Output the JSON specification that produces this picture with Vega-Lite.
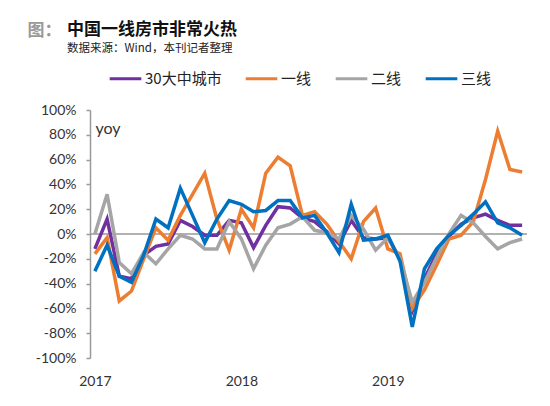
{
  "$schema": "https://vega.github.io/schema/vega-lite/v6.json",
  "width": 437,
  "height": 248,
  "autosize": "none",
  "padding": {"left": 90, "top": 110, "right": 23, "bottom": 48},
  "background": "white",
  "config": {
    "view": {"stroke": null},
    "axisY": {
      "labelOverlap": false,
      "grid": false,
      "labelFont": "Lato",
      "labelFontSize": 14,
      "labelColor": "#333333",
      "labelPadding": 10,
      "domainColor": "#999999",
      "domainWidth": 1.5,
      "tickColor": "#999999",
      "tickSize": 4,
      "tickWidth": 1.5,
      "titleAngle": 0,
      "titleX": 5,
      "titleY": 18,
      "titleAlign": "left",
      "titleBaseline": "middle",
      "titleFont": "Lato",
      "titleFontSize": 16,
      "titleFontWeight": "normal",
      "titleColor": "#333333"
    }
  },
  "title": {
    "text": "中国一线房市非常火热",
    "subtitle": "数据来源：Wind，本刊记者整理",
    "anchor": "start",
    "frame": "group",
    "dx": -23,
    "offset": -34,
    "font": "Noto Sans CJK SC",
    "fontSize": 17,
    "fontWeight": "bold",
    "color": "#111111",
    "subtitleFont": "Noto Sans CJK SC",
    "subtitleFontSize": 11.5,
    "subtitleColor": "#222222",
    "subtitlePadding": 4
  },
  "data": {
    "values": [
      {"m": "2017-01", "30大中城市": -12, "一线": -16, "二线": 0, "三线": -30},
      {"m": "2017-02", "30大中城市": 12, "一线": -3, "二线": 32, "三线": -9},
      {"m": "2017-03", "30大中城市": -34, "一线": -54, "二线": -23, "三线": -34},
      {"m": "2017-04", "30大中城市": -36, "一线": -46, "二线": -32, "三线": -39},
      {"m": "2017-05", "30大中城市": -17, "一线": -20, "二线": -15, "三线": -17},
      {"m": "2017-06", "30大中城市": -10, "一线": 5, "二线": -24, "三线": 12},
      {"m": "2017-07", "30大中城市": -8, "一线": -5, "二线": -12, "三线": 5},
      {"m": "2017-08", "30大中城市": 11, "一线": 15, "二线": -1, "三线": 37},
      {"m": "2017-09", "30大中城市": 6, "一线": 32, "二线": -4, "三线": 15},
      {"m": "2017-10", "30大中城市": -1, "一线": 49, "二线": -12, "三线": -7},
      {"m": "2017-11", "30大中城市": -1, "一线": 12, "二线": -12, "三线": 12},
      {"m": "2017-12", "30大中城市": 11, "一线": -13, "二线": 10, "三线": 27},
      {"m": "2018-01", "30大中城市": 9, "一线": 20, "二线": -4, "三线": 24},
      {"m": "2018-02", "30大中城市": -11, "一线": 5, "二线": -28, "三线": 18},
      {"m": "2018-03", "30大中城市": 7, "一线": 49, "二线": -9, "三线": 19},
      {"m": "2018-04", "30大中城市": 22, "一线": 62, "二线": 5, "三线": 27},
      {"m": "2018-05", "30大中城市": 21, "一线": 55, "二线": 8, "三线": 27},
      {"m": "2018-06", "30大中城市": 13, "一线": 15, "二线": 14, "三线": 13},
      {"m": "2018-07", "30大中城市": 10, "一线": 18, "二线": 3, "三线": 15},
      {"m": "2018-08", "30大中城市": 2, "一线": 8, "二线": 1, "三线": 1},
      {"m": "2018-09", "30大中城市": -8, "一线": -6, "二线": -4, "三线": -15},
      {"m": "2018-10", "30大中城市": 11, "一线": -20, "二线": 15, "三线": 24},
      {"m": "2018-11", "30大中城市": -3, "一线": 10, "二线": 4, "三线": -5},
      {"m": "2018-12", "30大中城市": -4, "一线": 21, "二线": -13, "三线": -4},
      {"m": "2019-01", "30大中城市": -3, "一线": -12, "二线": -3, "三线": -1},
      {"m": "2019-02", "30大中城市": -20, "一线": -16, "二线": -20, "三线": -22},
      {"m": "2019-03", "30大中城市": -62, "一线": -60, "二线": -55, "三线": -75},
      {"m": "2019-04", "30大中城市": -36, "一线": -45, "二线": -39, "三线": -28},
      {"m": "2019-05", "30大中城市": -16, "一线": -25, "二线": -19, "三线": -12},
      {"m": "2019-06", "30大中城市": -2, "一线": -4, "二线": 0, "三线": -1},
      {"m": "2019-07", "30大中城市": 8, "一线": -1, "二线": 15, "三线": 7},
      {"m": "2019-08", "30大中城市": 13, "一线": 10, "二线": 9, "三线": 16},
      {"m": "2019-09", "30大中城市": 16, "一线": 44, "二线": -2, "三线": 26},
      {"m": "2019-10", "30大中城市": 11, "一线": 83, "二线": -12, "三线": 9},
      {"m": "2019-11", "30大中城市": 7, "一线": 52, "二线": -7, "三线": 5},
      {"m": "2019-12", "30大中城市": 7, "一线": 50, "二线": -4, "三线": -1}
    ]
  },
  "transform": [
    {"fold": ["30大中城市", "一线", "二线", "三线"], "as": ["s", "v"]}
  ],
  "layer": [
    {
      "data": {"values": [{}]},
      "mark": {"type": "rule", "color": "#999999", "strokeWidth": 1.5},
      "encoding": {
        "y": {
          "datum": 0,
          "type": "quantitative",
          "axis": {
            "values": [-100, -80, -60, -40, -20, 0, 20, 40, 60, 80, 100],
            "labelExpr": "datum.value + '%'",
            "title": "yoy"
          }
        }
      }
    },
    {
      "mark": {"type": "line", "strokeWidth": 3.5, "strokeJoin": "miter"},
      "encoding": {
        "x": {
          "field": "m",
          "type": "ordinal",
          "scale": {"type": "point", "padding": 0.4},
          "axis": {
            "labelExpr": "slice(datum.value,5)=='01' ? slice(datum.value,0,4) : ''",
            "labelOverlap": false,
            "labelAngle": 0,
            "labelPadding": 16,
            "labelFont": "Lato",
            "labelFontSize": 14,
            "labelColor": "#333333",
            "domain": false,
            "ticks": false,
            "title": "图：",
            "titleX": -63,
            "titleY": -328,
            "titleAlign": "left",
            "titleBaseline": "middle",
            "titleFont": "Noto Sans CJK SC",
            "titleFontSize": 17,
            "titleFontWeight": "bold",
            "titleColor": "#999999"
          }
        },
        "y": {
          "field": "v",
          "type": "quantitative",
          "scale": {"domain": [-100, 100], "nice": false},
          "axis": {
            "values": [-100, -80, -60, -40, -20, 0, 20, 40, 60, 80, 100],
            "labelExpr": "datum.value + '%'",
            "title": "yoy"
          }
        },
        "color": {
          "field": "s",
          "type": "nominal",
          "scale": {
            "domain": ["30大中城市", "一线", "二线", "三线"],
            "range": ["#7030A0", "#ED7D31", "#A5A5A5", "#0070C0"]
          },
          "legend": {
            "orient": "none",
            "legendX": 18,
            "legendY": -49,
            "direction": "horizontal",
            "title": null,
            "symbolType": "stroke",
            "symbolStrokeWidth": 3,
            "symbolSize": 1000,
            "labelFont": "Noto Sans CJK SC",
            "labelFontSize": 15,
            "labelColor": "#222222",
            "labelOffset": 2,
            "columnPadding": 17
          }
        }
      }
    }
  ]
}
